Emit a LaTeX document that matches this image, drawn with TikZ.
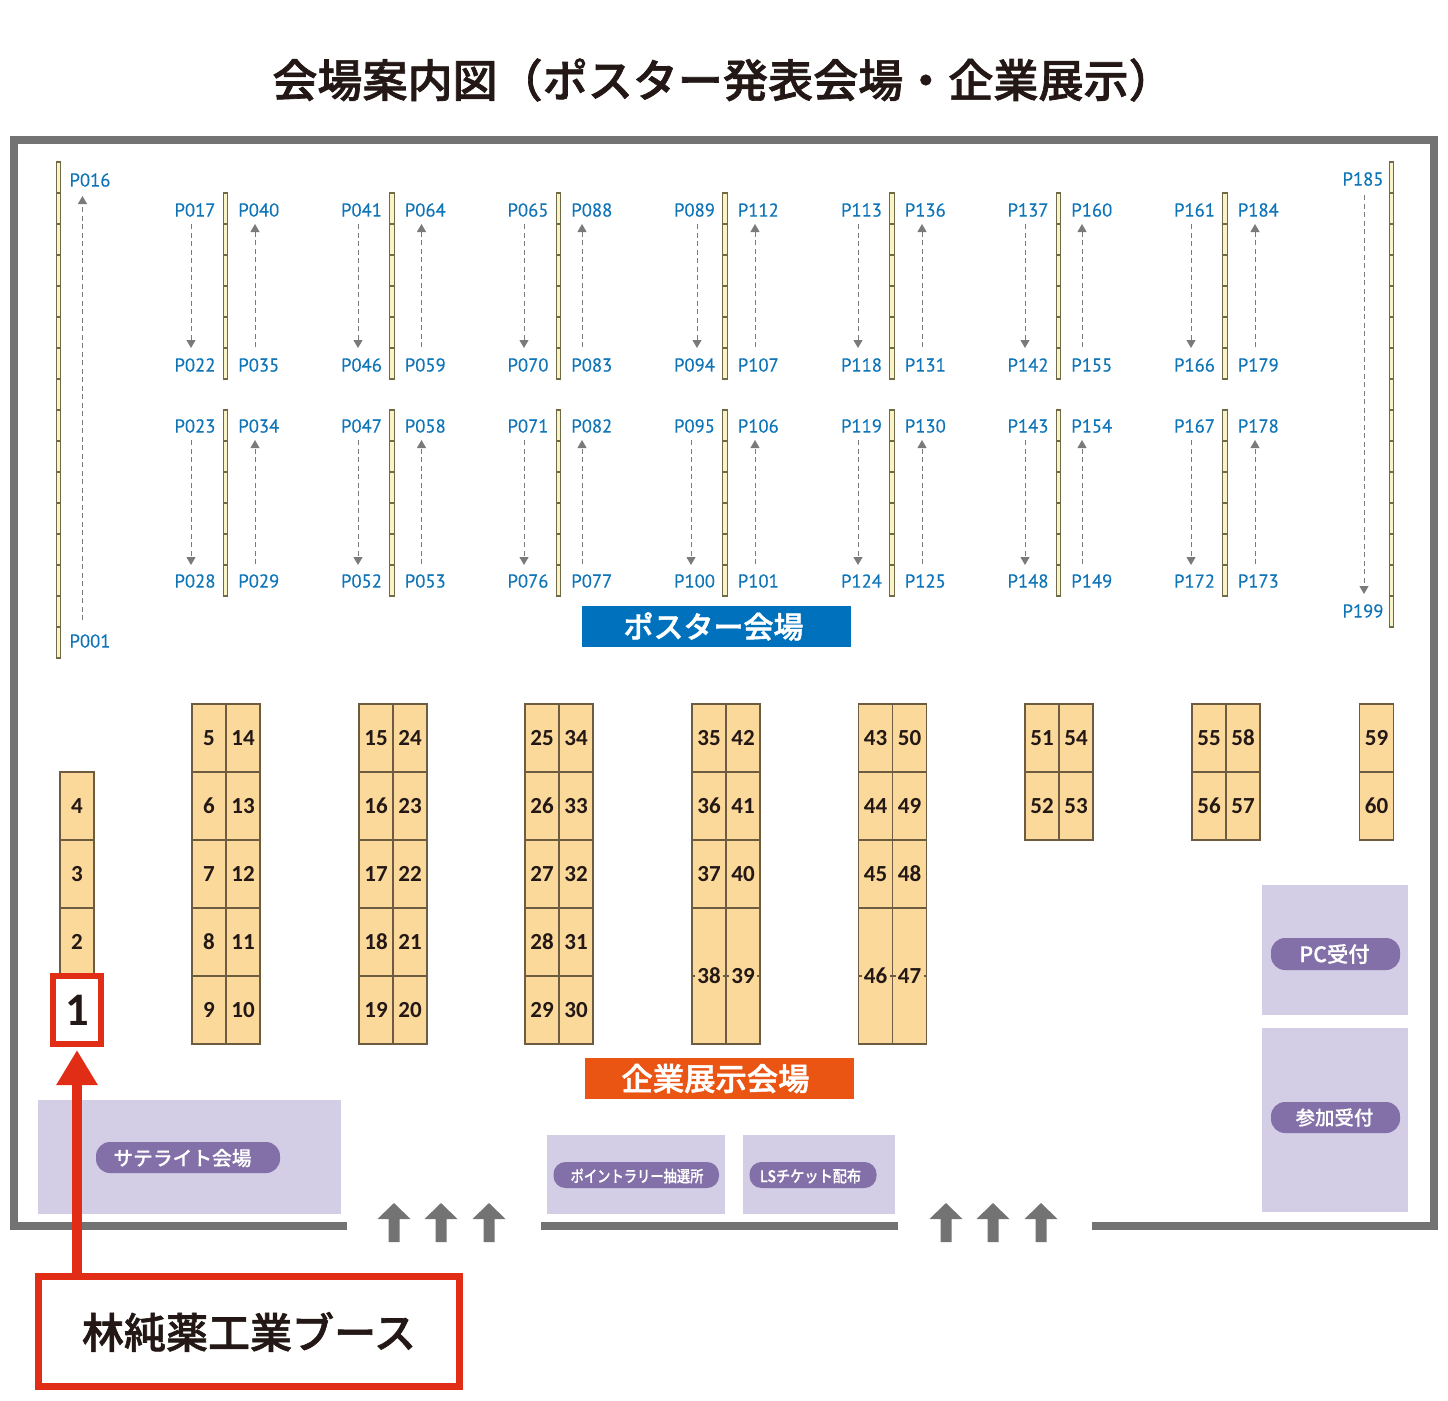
\documentclass[tikz,border=0pt]{standalone}
\usepackage{fontspec}
\setmainfont[RawFeature={embolden=0.25}]{PT Sans}
\newfontfamily\numf{Carlito}
\newfontfamily\cjk[RawFeature={embolden=0.5}]{Noto Sans CJK JP Medium}
\newfontfamily\cjkh[RawFeature={embolden=1.5}]{Noto Sans CJK JP Medium}
\usetikzlibrary{arrows.meta}
\definecolor{frameg}{HTML}{737373}
\definecolor{dashg}{HTML}{7A7A7A}
\definecolor{plabel}{HTML}{0F75B8}
\definecolor{boothf}{HTML}{FBD99B}
\definecolor{boothd}{HTML}{6E5C42}
\definecolor{stripf}{HTML}{F9F3C5}
\definecolor{stripd}{HTML}{6F6A48}
\definecolor{lav}{HTML}{D3CDE5}
\definecolor{pill}{HTML}{8370A8}
\definecolor{redc}{HTML}{E12D16}
\definecolor{bluec}{HTML}{0071BC}
\definecolor{orangec}{HTML}{EA5514}
\definecolor{inkc}{HTML}{231815}
\def\u{0.75pt}
\def\pnum#1{P\ifnum#1<100 0\fi\ifnum#1<10 0\fi#1}
\tikzset{
  booth/.style={draw=boothd,fill=boothf,line width=1.25*\u,minimum width=34*\u,minimum height=68*\u,inner sep=0pt,outer sep=0pt,text=inkc,font=\fontsize{17.25}{17.25}\selectfont\numf\bfseries},
  tallbooth/.style={booth,minimum height=136*\u},
  seg/.style={draw=stripd,fill=stripf,line width=1.1*\u,minimum width=4.6*\u,minimum height=31*\u,inner sep=0pt,outer sep=0pt},
  plab/.style={text=plabel,inner sep=0pt,font=\fontsize{14}{14}\selectfont},
  flow/.style={draw=dashg,line width=1*\u,dash pattern=on 5*\u off 3.5*\u,-{Triangle[length=8*\u,width=9*\u,fill=dashg]}},
  frameline/.style={draw=frameg,line width=8*\u},
  lavbox/.style={fill=lav,inner sep=0pt,outer sep=0pt},
  pilltag/.style={fill=pill,rounded corners=14*\u,inner sep=0pt,outer sep=0pt},
  pilltext/.style={inner sep=0pt,text=white,font=\cjk},
  banner/.style={minimum width=269*\u,minimum height=41*\u,inner sep=0pt,outer sep=0pt},
  bannertext/.style={inner sep=0pt,text=white},
  entry/.style={fill=frameg},
  redbox/.style={draw=redc,fill=white,inner sep=0pt,outer sep=.5\pgflinewidth},
  redarrow/.style={draw=redc,line width=10*\u,-{Triangle[length=35*\u,width=39*\u,fill=redc]},shorten >=3*\u}
}
\newcommand{\boxat}[5]{\node[lavbox,minimum width=#4*\u,minimum height=#5*\u] (#1) at (#2,#3) {};}
\begin{document}
\begin{tikzpicture}[x=0.75pt,y=-0.75pt]
\useasboundingbox (0,0) rectangle (1448,1400);
% title
\node[inner sep=0pt,text=inkc,font=\fontsize{33.8}{33.8}\selectfont\cjkh] (title) at (723,80) {会場案内図（ポスター発表会場・企業展示）};
% hall frame
\coordinate (fa) at (347,1226);\coordinate (fb) at (14,1226);\coordinate (fc) at (14,140);
\coordinate (fd) at (1434,140);\coordinate (fe) at (1434,1226);\coordinate (ff) at (1092,1226);
\coordinate (fg) at (541,1226);\coordinate (fh) at (898,1226);
\draw[frameline,line join=miter] (fa) -- (fb) -- (fc) -- (fd) -- (fe) -- (ff);
\draw[frameline] (fg) -- (fh);
% entrance arrows
\foreach \x in {394,441,489,946,993,1041}{
  \fill[entry] (\x,1203) -- (\x+16.5,1219) -- (\x+5.5,1219) -- (\x+5.5,1242) -- (\x-5.5,1242) -- (\x-5.5,1219) -- (\x-16.5,1219) -- cycle;
}
% long strips
\foreach \i in {0,...,15}{\node[seg] (sl\i) at (58.5,177.5+31*\i) {};}
\foreach \i in {0,...,14}{\node[seg] (sr\i) at (1391.5,177.5+31*\i) {};}
\node[plab] (p16) at (90,180) {P016};
\node[plab] (p1) at (90,641) {P001};
\node[plab] (p185) at (1363,179) {P185};
\node[plab] (p199) at (1363,611) {P199};
\coordinate (f1a) at (82.5,620);\coordinate (f1b) at (82.5,196);
\coordinate (f2a) at (1364,195);\coordinate (f2b) at (1364,594);
\draw[flow] (f1a) -- (f1b);
\draw[flow] (f2a) -- (f2b);
% poster columns
\foreach \sx/\la/\ra/\lb/\a in {225.5/191/255/191/17,392/358/421.5/358/41,558.5/524/582/524/65,725/697/755/691/89,892/858/922/858/113,1058.5/1025/1082/1025/137,1225/1191/1255/1191/161}{
  \foreach \i in {0,...,5}{
    \node[seg] (s\a u\i) at (\sx,208.5+31*\i) {};
    \node[seg] (s\a d\i) at (\sx,425.5+31*\i) {};
  }
  \pgfmathtruncatemacro{\na}{\a+5}\pgfmathtruncatemacro{\nb}{\a+18}\pgfmathtruncatemacro{\nc}{\a+23}
  \pgfmathtruncatemacro{\nd}{\a+6}\pgfmathtruncatemacro{\ne}{\a+11}\pgfmathtruncatemacro{\nf}{\a+12}\pgfmathtruncatemacro{\ng}{\a+17}
  \node[plab] (l\a) at (\sx-30.5,210) {\pnum{\a}};
  \node[plab] (l\na) at (\sx-30.5,365) {\pnum{\na}};
  \node[plab] (l\nb) at (\sx+33.3,365) {\pnum{\nb}};
  \node[plab] (l\nc) at (\sx+33.3,210) {\pnum{\nc}};
  \node[plab] (l\nd) at (\sx-30.5,426) {\pnum{\nd}};
  \node[plab] (l\ne) at (\sx-30.5,581) {\pnum{\ne}};
  \node[plab] (l\nf) at (\sx+33.3,581) {\pnum{\nf}};
  \node[plab] (l\ng) at (\sx+33.3,426) {\pnum{\ng}};
  \coordinate (a\a) at (\la,224);\coordinate (b\a) at (\la,348);
  \coordinate (c\a) at (\ra,347);\coordinate (d\a) at (\ra,224);
  \coordinate (e\a) at (\lb,440);\coordinate (f\a) at (\lb,565);
  \coordinate (g\a) at (\ra,564);\coordinate (h\a) at (\ra,440);
  \draw[flow] (a\a) -- (b\a);
  \draw[flow] (c\a) -- (d\a);
  \draw[flow] (e\a) -- (f\a);
  \draw[flow] (g\a) -- (h\a);
}
% banners
\node[banner,fill=bluec] (bposter) at (716.5,626.5) {};
\node[bannertext,font=\fontsize{22.5}{22.5}\selectfont\cjkh] (tposter) at (713.5,626.5) {ポスター会場};
\node[banner,fill=orangec] (bexpo) at (719,1078.5) {};
\node[bannertext,font=\fontsize{23.5}{23.5}\selectfont\cjkh] (texpo) at (715.5,1078.5) {企業展示会場};
% booths: x / y / number
\foreach \x/\y/\n in {
 77/806/4,77/874/3,77/942/2,
 209/738/5,209/806/6,209/874/7,209/942/8,209/1010/9,
 243/738/14,243/806/13,243/874/12,243/942/11,243/1010/10,
 376/738/15,376/806/16,376/874/17,376/942/18,376/1010/19,
 410/738/24,410/806/23,410/874/22,410/942/21,410/1010/20,
 542/738/25,542/806/26,542/874/27,542/942/28,542/1010/29,
 576/738/34,576/806/33,576/874/32,576/942/31,576/1010/30,
 709/738/35,709/806/36,709/874/37,
 743/738/42,743/806/41,743/874/40,
 875.5/738/43,875.5/806/44,875.5/874/45,
 909.5/738/50,909.5/806/49,909.5/874/48,
 1042/738/51,1042/806/52,1076/738/54,1076/806/53,
 1209/738/55,1209/806/56,1243/738/58,1243/806/57,
 1376.5/738/59,1376.5/806/60}{
  \node[booth] (bt\n) at (\x,\y) {\n};
}
\foreach \x/\n in {709/38,743/39,875.5/46,909.5/47}{
  \node[tallbooth] (bt\n) at (\x,976) {};
  \draw[boothd,line width=1.25*\u] (bt\n.west) -- ++(3,0) (bt\n.east) -- ++(-3,0);
  \node[fill=boothf,inner sep=0.5*\u,text=inkc,font=\fontsize{17.25}{17.25}\selectfont\numf\bfseries] (tx\n) at (\x,976) {\n};
}
% lavender areas
\boxat{sat}{189.5}{1157}{303}{114}
\boxat{pc}{1335}{950}{146}{130}
\boxat{reg}{1335}{1120}{146}{184}
\boxat{pt}{636}{1174.5}{178}{79}
\boxat{ls}{818.75}{1174.5}{152.5}{79}
\node[pilltag,minimum width=184*\u,minimum height=31*\u] (psat) at (188,1157.5) {};
\node[pilltext,font=\fontsize{14.8}{14.8}\selectfont\cjk] (tsat) at (182.5,1158) {サテライト会場};
\node[pilltag,minimum width=129*\u,minimum height=32*\u] (ppc) at (1335.5,954) {};
\node[pilltext,font=\fontsize{16}{16}\selectfont\cjk] (tpc) at (1334.5,954) {PC受付};
\node[pilltag,minimum width=129*\u,minimum height=31*\u] (preg) at (1335.5,1117.5) {};
\node[pilltext,font=\fontsize{14.6}{14.6}\selectfont\cjk] (treg) at (1334.5,1117.5) {参加受付};
\node[pilltag,rounded corners=12*\u,minimum width=165.5*\u,minimum height=26*\u] (ppt) at (636.25,1175) {};
\node[pilltext,font=\fontsize{12}{12}\selectfont\cjk] (tpt) at (637,1176) {\scalebox{0.83}[1]{ポイントラリー抽選所}};
\node[pilltag,rounded corners=12*\u,minimum width=127*\u,minimum height=26*\u] (pls) at (813,1175) {};
\node[pilltext,font=\fontsize{12}{12}\selectfont\cjk] (tls) at (810.5,1176) {\scalebox{0.886}[1]{LSチケット配布}};
% highlight
\node[redbox,line width=6*\u,minimum width=48*\u,minimum height=68*\u,text=inkc,font=\fontsize{35}{35}\selectfont\numf\bfseries] (target) at (77,1010) {1};
\node[redbox,line width=7*\u,minimum width=421*\u,minimum height=110.5*\u] (callout) at (249.25,1331.5) {};
\node[inner sep=0pt,text=inkc,font=\fontsize{31.5}{31.5}\selectfont\cjkh] (ctext) at (249,1332) {林純薬工業ブース};
\draw[redarrow] (target.south |- callout.north) -- (target.south);
\end{tikzpicture}
\end{document}
